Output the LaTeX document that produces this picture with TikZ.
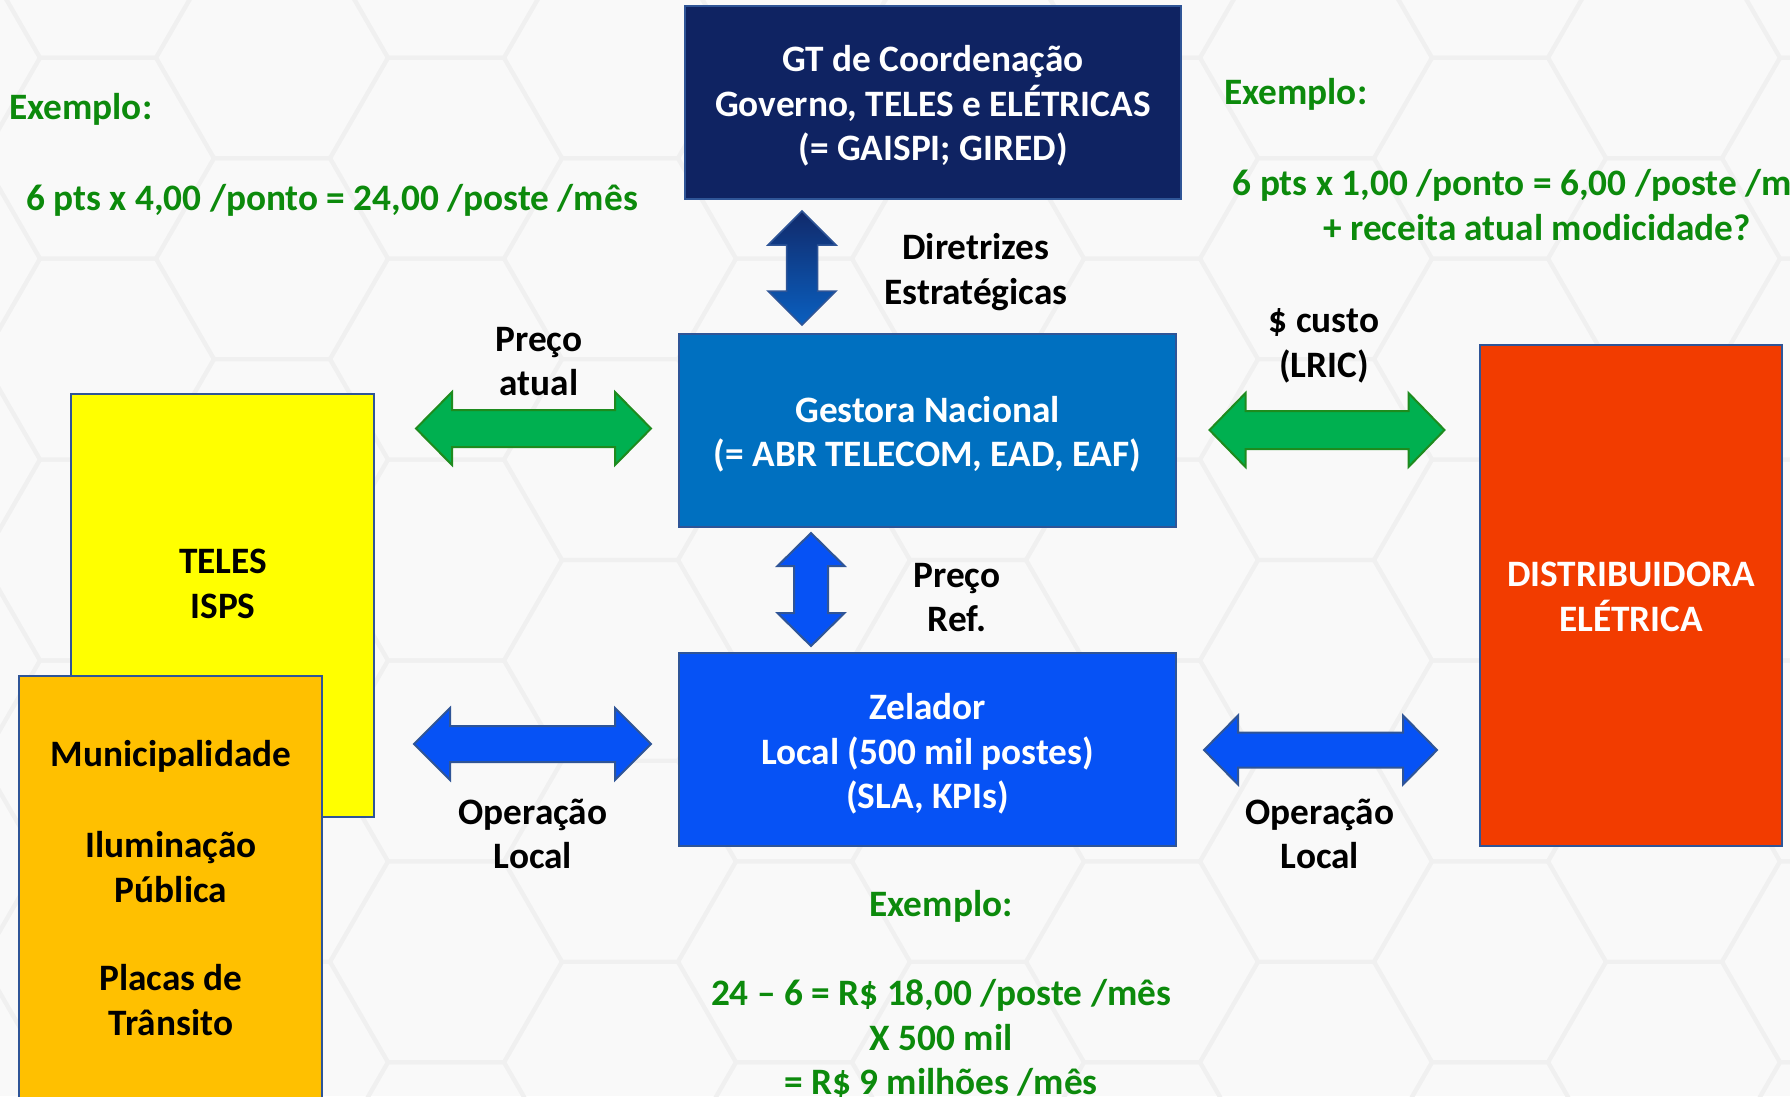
\documentclass[tikz,border=0pt]{standalone}
\usepackage{fontspec}
\setmainfont{Carlito}
\usetikzlibrary{calc}
\definecolor{navybox}{HTML}{0F2362}
\definecolor{gestbox}{HTML}{0070C0}
\definecolor{zelbox}{HTML}{0652F5}
\definecolor{edgeblue}{HTML}{2F5597}
\definecolor{yelbox}{HTML}{FFFF00}
\definecolor{orgbox}{HTML}{FFC000}
\definecolor{redbox}{HTML}{F23C00}
\definecolor{txtgreen}{HTML}{0C8A0C}
\definecolor{arrgreen}{HTML}{00B050}
\definecolor{arrgreenedge}{HTML}{1E8B1E}
\definecolor{arrblue}{HTML}{0652F5}
\definecolor{bgcol}{HTML}{F9F9F9}
\definecolor{hexcol}{HTML}{F0F0F0}
\definecolor{vtop}{HTML}{112A6B}
\definecolor{vbot}{HTML}{0A5FBF}
\tikzset{
 boxst/.style={draw=edgeblue, line width=2.5pt, inner sep=0pt, align=center, font=\fontsize{37.3}{44.5}\selectfont\bfseries},
 lbl/.style={inner sep=0pt, align=center, font=\fontsize{37.3}{44.5}\selectfont\bfseries, text=black},
 glbl/.style={lbl, text=txtgreen},
 greenarr/.style={fill=arrgreen, draw=arrgreenedge, line width=2pt},
 bluearr/.style={fill=arrblue, draw=edgeblue, line width=2pt},
 hexline/.style={draw=hexcol, line width=4pt},
}
\newcommand{\blockarrowH}[6]{\path[#6,shift={(#1)}] (-#2,0) -- (-#2+#3,-#4) -- (-#2+#3,-#5) -- (#2-#3,-#5) -- (#2-#3,-#4) -- (#2,0) -- (#2-#3,#4) -- (#2-#3,#5) -- (-#2+#3,#5) -- (-#2+#3,#4) -- cycle;}
\newcommand{\blockarrowV}[6]{\path[#6,shift={(#1)}] (0,-#2) -- (-#4,-#2+#3) -- (-#5,-#2+#3) -- (-#5,#2-#3) -- (-#4,#2-#3) -- (0,#2) -- (#4,#2-#3) -- (#5,#2-#3) -- (#5,-#2+#3) -- (#4,-#2+#3) -- cycle;}
\begin{document}
\begin{tikzpicture}[x=1pt,y=-1pt]
\useasboundingbox (0,0) rectangle (1790,1096);
\clip (0,0) rectangle (1790,1096);
\fill[bgcol] (0,0) rectangle (1790,1096);
% faint hexagon background
\foreach \i in {-8,...,5}{
 \foreach \j in {-4,...,4}{
  \pgfmathsetmacro\cx{1142+174*\i}
  \pgfmathsetmacro\cy{560+200.9*(\j+0.5*mod(\i+100,2))}
  \draw[hexline] (\cx+116,\cy) -- (\cx+58,\cy-100.5) -- (\cx-58,\cy-100.5) -- (\cx-116,\cy) -- (\cx-58,\cy+100.5) -- (\cx+58,\cy+100.5) -- cycle;
 }
}
% boxes
\node[boxst, fill=navybox, minimum width=496pt, minimum height=193pt] (gt) at (933,102.5) {};
\node[lbl, text=white] (gttxt) at (933,106) {GT de Coordenação\\Governo, TELES e ELÉTRICAS\\(= GAISPI; GIRED)};
\node[boxst, fill=gestbox, minimum width=497pt, minimum height=193pt] (gest) at (927.5,430.5) {};
\node[lbl, text=white] (gesttxt) at (927.5,434) {Gestora Nacional\\(= ABR TELECOM, EAD, EAF)};
\node[boxst, fill=zelbox, minimum width=497pt, minimum height=193pt] (zel) at (927.5,749.5) {};
\node[lbl, text=white] (zeltxt) at (927.5,754) {Zelador\\Local (500 mil postes)\\(SLA, KPIs)};
\node[boxst, fill=yelbox, minimum width=303pt, minimum height=423pt] (teles) at (222.5,605.5) {};
\node[lbl] (telestxt) at (223,584) {TELES\\ISPS};
\node[boxst, fill=orgbox, minimum width=303pt, minimum height=434pt] (muni) at (170.5,893) {};
\node[lbl] (munitxt) at (171,888) {Municipalidade\\[47pt]Iluminação\\Pública\\[44pt]Placas de\\Trânsito};
\node[boxst, fill=redbox, minimum width=302pt, minimum height=501pt] (dist) at (1631,595.5) {};
\node[lbl, text=white] (disttxt) at (1631,597) {DISTRIBUIDORA\\ELÉTRICA};
% block arrows
\coordinate (va1) at (802,268);
\coordinate (va2) at (811,589.5);
\coordinate (gl) at (533.5,428.5);
\coordinate (gr) at (1327,430);
\coordinate (bl) at (532.5,744);
\coordinate (br) at (1320.5,750);
\blockarrowV{va1}{57}{34}{34}{15.5}{top color=vtop, bottom color=vbot, draw=edgeblue, line width=1.5pt}
\blockarrowV{va2}{56.5}{33}{33.5}{17}{bluearr}
\blockarrowH{gl}{117.5}{36}{36.5}{18.5}{greenarr}
\blockarrowH{gr}{117.5}{36}{37}{19}{greenarr}
\blockarrowH{bl}{118.5}{36}{36}{18}{bluearr}
\blockarrowH{br}{116.5}{34}{34.5}{17.5}{bluearr}
% labels
\node[glbl, anchor=west] (ex1) at (9,109) {Exemplo:};
\node[glbl, anchor=west] (ex1b) at (26,200) {6 pts x 4,00 /ponto = 24,00 /poste /mês};
\node[glbl, anchor=west] (ex2) at (1224,94) {Exemplo:};
\node[glbl] (ex2b) at (1537,205) {6 pts x 1,00 /ponto = 6,00 /poste /mês\hspace*{16pt}\\+ receita atual modicidade?};
\node[lbl] (dir) at (976,272) {Diretrizes\\Estratégicas};
\node[lbl] (pa) at (539,361.5) {Preço\\atual};
\node[lbl] (cu) at (1324,346) {\$ custo\\(LRIC)};
\node[lbl] (pr) at (957,597.5) {Preço\\Ref.};
\node[lbl] (ol) at (533,834) {Operação\\Local};
\node[lbl] (orr) at (1320,834) {Operação\\Local};
\node[glbl] (ex3) at (941,906) {Exemplo:};
\node[glbl] (ex3b) at (941,1039) {24 – 6 = R\$ 18,00 /poste /mês\\X 500 mil\\= R\$ 9 milhões /mês};
\end{tikzpicture}
\end{document}
